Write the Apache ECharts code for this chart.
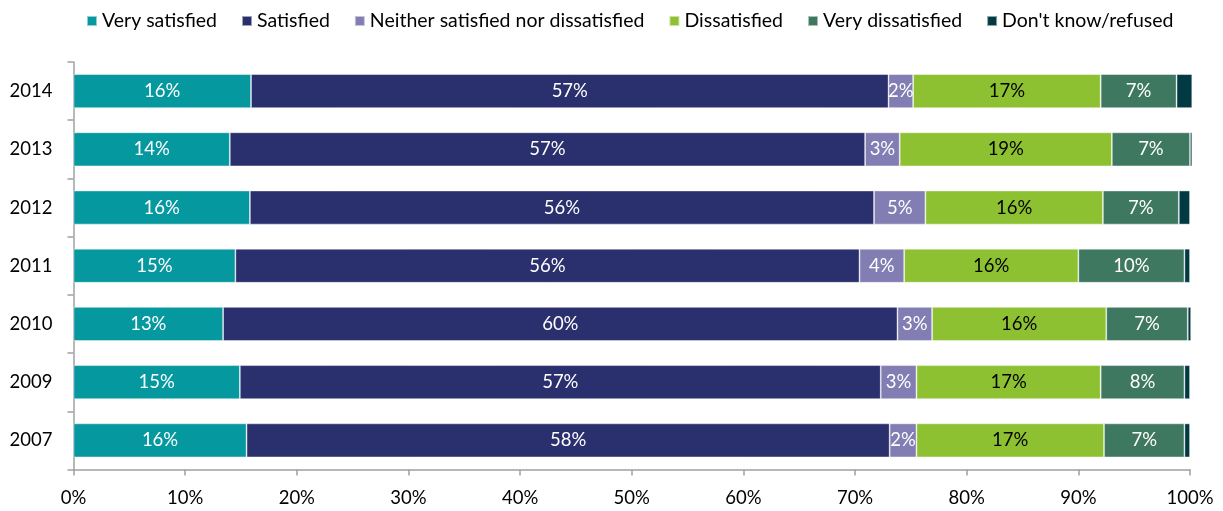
<!DOCTYPE html>
<html><head><meta charset="utf-8">
<script src="https://cdn.jsdelivr.net/npm/echarts@6/dist/echarts.min.js"></script>
<style>html,body{margin:0;padding:0;background:#fff}#c{width:1223px;height:511px}</style>
</head><body><div id="c"></div>
<script>
const years = ['2007','2009','2010','2011','2012','2013','2014'];
const seriesNames = ['Very satisfied','Satisfied','Neither satisfied nor dissatisfied','Dissatisfied','Very dissatisfied',"Don't know/refused"];
const verySatisfied   = [15.5, 14.9, 13.4, 14.5, 15.8, 14.0, 15.9];
const satisfied       = [57.6, 57.4, 60.4, 55.9, 55.9, 56.9, 57.1];
const neither         = [2.4, 3.2, 3.1, 4.0, 4.6, 3.1, 2.2];
const dissatisfied    = [16.8, 16.5, 15.6, 15.6, 15.9, 19.0, 16.8];
const veryDissatisfied= [7.2, 7.5, 7.3, 9.5, 6.8, 7.0, 6.8];
const dontKnow        = [0.5, 0.5, 0.3, 0.5, 1.0, 0.2, 1.4];
const xTicks = [0,10,20,30,40,50,60,70,80,90,100];

const colors = ['#06989F','#2A2F6E','#827DB3','#8DC131','#3F7860','#023A44'];
const labelColors = ['#fff','#fff','#fff','#000','#fff',null];
const dataSets = [verySatisfied, satisfied, neither, dissatisfied, veryDissatisfied, dontKnow];
const FONT = 'Lato';

const chart = echarts.init(document.getElementById('c'), null, {renderer:'canvas'});
chart.setOption({
  animation:false,
  textStyle:{fontFamily:FONT},
  legend:{
    left:81, top:6, itemWidth:10, itemHeight:10, itemGap:24, icon:'rect',
    textStyle:{fontFamily:FONT,fontSize:19.5,color:'#000',padding:[0,0,0,0]},
    data:seriesNames
  },
  grid:{left:73.5, right:33, top:62, bottom:41.5, containLabel:false},
  xAxis:{
    type:'value', min:xTicks[0], max:xTicks[xTicks.length-1], interval:10,
    axisLine:{show:true,lineStyle:{color:'#A0A0A0',width:1.5}},
    axisTick:{show:true,length:6,lineStyle:{color:'#A0A0A0',width:1.5}},
    splitLine:{show:false},
    axisLabel:{formatter:'{value}%',fontFamily:FONT,fontSize:18.5,color:'#000',margin:19}
  },
  yAxis:{
    type:'category', data:years,
    axisLine:{show:true,lineStyle:{color:'#A0A0A0',width:1.5}},
    axisTick:{show:true,length:6,lineStyle:{color:'#A0A0A0',width:1.5}},
    axisLabel:{fontFamily:FONT,fontSize:18.5,color:'#000',margin:21}
  },
  series: seriesNames.map((n,i)=>({
    name:n, type:'bar', stack:'total', barWidth:34, clip:false,
    data:dataSets[i],
    itemStyle:{color:colors[i], borderColor:'rgba(255,255,255,0.55)', borderWidth:0.8},
    label:{
      show: labelColors[i]!==null, position:'inside',
      formatter:p=>Math.round(p.value)+'%',
      color:labelColors[i]||'#fff', fontFamily:FONT, fontSize:18.5
    }
  }))
});
</script></body></html>
